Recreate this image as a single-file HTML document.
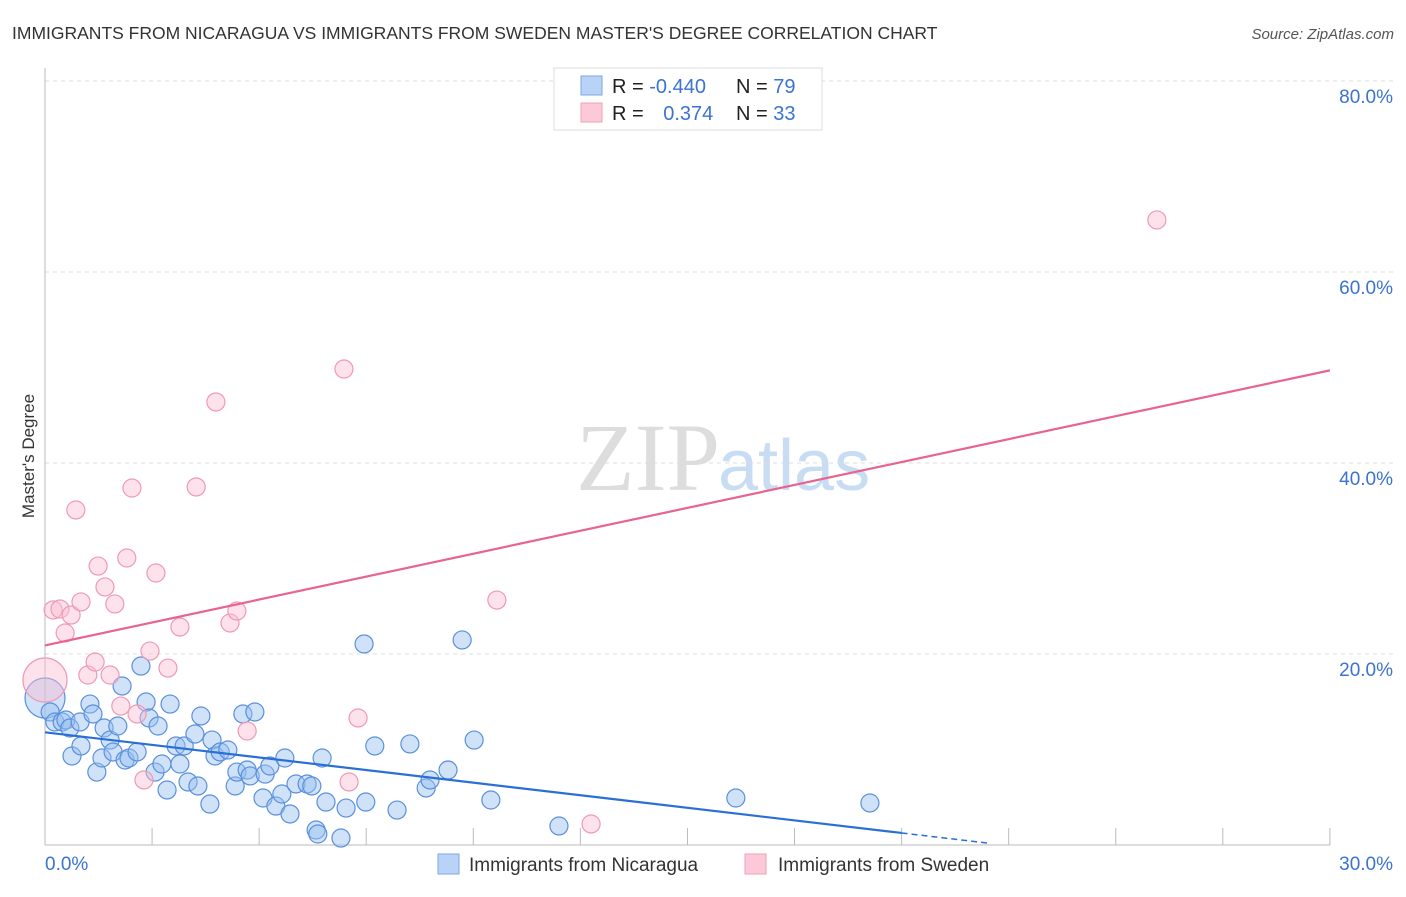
<!DOCTYPE html>
<html><head><meta charset="utf-8"><style>
body{margin:0;background:#fff;font-family:"Liberation Sans",sans-serif}
svg text{font-family:"Liberation Sans",sans-serif}
</style></head><body>
<svg id="c" width="1406" height="892" xmlns="http://www.w3.org/2000/svg">
<text x="12" y="39" font-size="17.5" fill="#333">IMMIGRANTS FROM NICARAGUA VS IMMIGRANTS FROM SWEDEN MASTER'S DEGREE CORRELATION CHART</text>
<text x="1394" y="39" font-size="15" fill="#555" font-style="italic" text-anchor="end">Source: ZipAtlas.com</text>
<text x="720" y="490" font-size="96" fill="#ddd" text-anchor="end" font-family="Liberation Serif" style="font-family:'Liberation Serif',serif">ZIP</text>
<text x="718" y="490" font-size="72" fill="#c8dcf3">atlas</text>
<g id="grid"></g><g id="axes"></g><g id="pts"></g><g id="lines"></g>
<text x="34" y="456" font-size="17" fill="#333" text-anchor="middle" transform="rotate(-90 34 456)">Master's Degree</text>
<g>
<rect x="554" y="68" width="268" height="62" fill="#fff" stroke="#ddd"/>
<rect x="581" y="76" width="21" height="19" fill="#b8d3f5" stroke="#7aa8e6"/>
<rect x="581" y="103" width="21" height="19" fill="#fcc9d8" stroke="#f0a0b8"/>
<text x="612" y="93" font-size="20" fill="#222">R = <tspan fill="#3b73d0">-0.440</tspan></text>
<text x="736" y="93" font-size="20" fill="#222">N = <tspan fill="#3b73d0">79</tspan></text>
<text x="612" y="120" font-size="20" fill="#222">R = <tspan fill="#3b73d0" dx="14">0.374</tspan></text>
<text x="736" y="120" font-size="20" fill="#222">N = <tspan fill="#3b73d0">33</tspan></text>
</g>
<g>
<rect x="438" y="854" width="21" height="20" fill="#b8d3f5" stroke="#7aa8e6"/>
<text x="469" y="871" font-size="19" fill="#333">Immigrants from Nicaragua</text>
<rect x="745" y="854" width="21" height="20" fill="#fcc9d8" stroke="#f0a0b8"/>
<text x="778" y="871" font-size="19" fill="#333">Immigrants from Sweden</text>
</g>
</svg>
<script>
const ns="http://www.w3.org/2000/svg";
const yTicks=[20,40,60,80];
const yTickLabels=["20.0%","40.0%","60.0%","80.0%"];
const xTickVals=[2.5,5,7.5,10,12.5,15,17.5,20,22.5,25,27.5,30];
const nicPx=[[45,698],[50,712],[55,722],[62,722],[66,720],[70,728],[80,722],[72,756],[81,746],[90,704],[93,714],[97,772],[102,758],[104,728],[110,740],[113,752],[118,726],[122,686],[125,760],[129,758],[137,752],[141,666],[146,702],[149,718],[155,772],[158,726],[162,764],[167,790],[170,704],[176,746],[180,764],[184,746],[188,782],[195,734],[198,786],[201,716],[210,804],[212,740],[215,756],[220,752],[228,750],[235,786],[237,772],[243,714],[247,770],[250,776],[255,712],[263,798],[265,774],[270,766],[276,806],[282,794],[285,758],[290,814],[296,784],[307,784],[312,786],[316,830],[318,834],[322,758],[326,802],[341,838],[346,808],[364,644],[366,802],[375,746],[397,810],[410,744],[426,788],[430,780],[448,770],[462,640],[474,740],[491,800],[559,826],[736,798],[870,803]];
const nicX=nicPx.map(p=>+((p[0]-45)/42.83).toFixed(2));
const nicY=nicPx.map(p=>+((845-p[1])/9.55).toFixed(2));
const swePx=[[53,610],[60,609],[65,633],[71,615],[76,510],[81,602],[88,675],[95,662],[98,566],[105,587],[110,675],[115,604],[121,706],[127,558],[132,488],[137,714],[144,780],[150,651],[156,573],[168,668],[180,627],[196,487],[216,402],[230,623],[237,611],[247,731],[344,369],[349,782],[358,718],[497,600],[591,824],[1157,220]];
const sweX=swePx.map(p=>+((p[0]-45)/42.83).toFixed(2));
const sweY=swePx.map(p=>+((845-p[1])/9.55).toFixed(2));
const nicTrend=[11.8,-0.527];
const sweTrend=[20.9,0.96];
const X=v=>45+v*42.83, Y=v=>845-v*9.55;
function mk(t,a,parent){const e=document.createElementNS(ns,t);for(const k in a)e.setAttribute(k,a[k]);document.getElementById(parent).appendChild(e);return e;}
yTicks.forEach((v,i)=>{
 const l=mk('line',{x1:45,x2:1393,y1:Y(v),y2:Y(v),stroke:'#ddd','stroke-dasharray':'4 4'},'grid');
 
 
 const t=mk('text',{x:1393,y:Y(v)+22,'font-size':19,fill:'#3b73d0','text-anchor':'end'},'grid');
 t.textContent=yTickLabels[i];
 
 
});
let a=mk('line',{x1:45,x2:45,y1:68,y2:845,stroke:'#bbb'},'axes');


a=mk('line',{x1:45,x2:1330,y1:845,y2:845,stroke:'#bbb'},'axes');


xTickVals.forEach(v=>{const t=mk('line',{x1:X(v),x2:X(v),y1:828,y2:845,stroke:'#bbb'},'axes');
 
 });
[[0,"0.0%",'start',45],[30,"30.0%",'end',1393]].forEach(d=>{const t=mk('text',{x:d[3],y:870,'font-size':19,fill:'#3b73d0','text-anchor':d[2]},'axes');t.textContent=d[1];
 
 });
nicX.forEach((x,i)=>{const c=mk('circle',{cx:X(x),cy:Y(nicY[i]),r:i==0?20:9,fill:'rgba(150,190,240,0.45)',stroke:'#5a90dc','stroke-width':1.2},'pts');
 
 });
sweX.forEach((x,i)=>{const c=mk('circle',{cx:X(x),cy:Y(sweY[i]),r:9,fill:'rgba(250,190,210,0.45)',stroke:'#ee9ab4','stroke-width':1.2},'pts');
 
 });
let bc=mk('circle',{cx:45,cy:680,r:22,fill:'rgba(250,190,210,0.45)',stroke:'#ee9ab4','stroke-width':1.2},'pts');


let l=mk('line',{x1:X(0),y1:Y(sweTrend[0]),x2:X(30),y2:Y(sweTrend[0]+30*sweTrend[1]),stroke:'#e8648f','stroke-width':2.2},'lines');


l=mk('line',{x1:X(0),y1:Y(nicTrend[0]),x2:X(20),y2:Y(nicTrend[0]+20*nicTrend[1]),stroke:'#2a6fd6','stroke-width':2.2},'lines');


l=mk('line',{x1:X(20),y1:Y(nicTrend[0]+20*nicTrend[1]),x2:X(22),y2:Y(nicTrend[0]+22*nicTrend[1]),stroke:'#2a6fd6','stroke-width':1.5,'stroke-dasharray':'6 4'},'lines');


</script>
</body></html>
